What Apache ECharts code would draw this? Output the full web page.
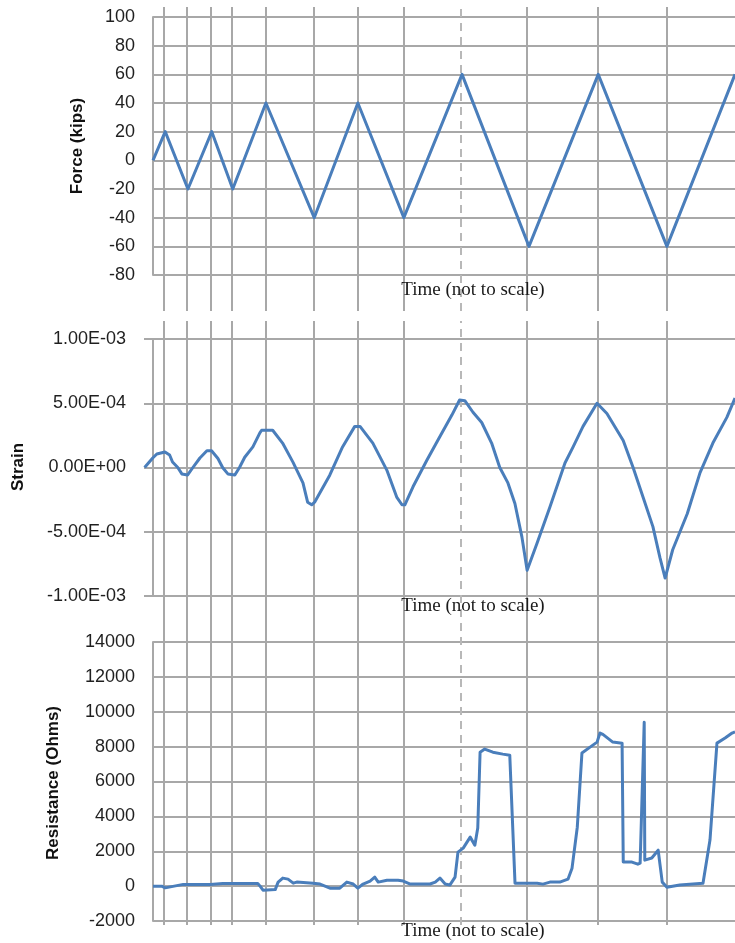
<!DOCTYPE html>
<html>
<head>
<meta charset="utf-8">
<script src="https://cdn.jsdelivr.net/npm/echarts@6/dist/echarts.min.js"></script>
<style>
  html, body { margin: 0; padding: 0; background: #fff; }
  #chart { width: 735px; height: 943px; }
</style>
</head>
<body>
<div id="chart"></div>
<script>
// Load-cycle peak times (arbitrary time units, not to scale); a grid line marks each one
const cycleTimes = [1.9, 5.8, 10.0, 13.6, 19.4, 27.7, 35.2, 43.1, 52.9, 64.3, 76.5, 88.3];
const dashedCycleTime = 52.9;

// Force (kips): triangular cycles between the peaks
const forceTimes = [0, 2.1, 6.0, 10.1, 13.7, 19.4, 27.7, 35.2, 43.1, 53.1, 64.6, 76.5, 88.3, 100];
const forceValues = [0, 20, -20, 20, -20, 40, -40, 40, -40, 60, -60, 60, -60, 60];

// Strain response
const strainTimes = [-1.4, 0, 0.7, 2.1, 2.9, 3.4, 4.3, 5.0, 6.0, 6.9, 8.1, 9.3, 10.1, 11.2, 12.0, 12.9,
  14.1, 14.9, 15.8, 17.2, 18.4, 18.7, 20.6, 22.3, 24.1, 25.8, 26.6, 27.3, 27.8, 30.4, 32.6, 34.7,
  35.6, 37.8, 40.2, 41.9, 42.8, 43.3, 44.7, 47.1, 49.3, 51.4, 52.7, 53.6, 55.0, 56.5, 58.2, 59.6,
  61.0, 62.2, 63.4, 64.3, 66.0, 68.2, 70.8, 72.2, 73.9, 76.3, 78.0, 80.8, 82.5, 84.2, 85.9, 87.1,
  88.0, 89.3, 91.8, 94.0, 96.2, 98.6, 100];
const strainValues = [0, 7.4e-5, 1.05e-4, 1.2e-4, 9.7e-5, 4.3e-5, 0, -5e-5, -5.8e-5, 0, 7.4e-5, 1.3e-4,
  1.3e-4, 7e-5, 0, -5e-5, -5.8e-5, 0, 8e-5, 1.6e-4, 2.7e-4, 2.9e-4, 2.9e-4, 1.9e-4, 4e-5, -1.2e-4,
  -2.7e-4, -2.9e-4, -2.7e-4, -6e-5, 1.6e-4, 3.2e-4, 3.2e-4, 1.9e-4, -2e-5, -2.3e-4, -2.9e-4, -2.9e-4,
  -1.5e-4, 5.8e-5, 2.4e-4, 4.1e-4, 5.25e-4, 5.2e-4, 4.3e-4, 3.5e-4, 1.9e-4, 0, -1.2e-4, -2.8e-4,
  -5.4e-4, -8e-4, -5.9e-4, -3.1e-4, 3.5e-5, 1.6e-4, 3.2e-4, 5e-4, 4.2e-4, 2.1e-4, 0, -2.3e-4, -4.6e-4,
  -7e-4, -8.6e-4, -6.4e-4, -3.6e-4, -4e-5, 1.9e-4, 3.9e-4, 5.4e-4];

// Resistance (Ohms)
const resistanceTimes = [0, 1.5, 2.1, 2.4, 5.2, 9.8, 12.0, 18.0, 18.4, 18.9, 21.0, 21.5, 22.3, 23.2,
  24.1, 24.7, 27.5, 28.7, 30.4, 32.1, 33.3, 34.4, 35.2, 36.1, 37.3, 38.1, 38.7, 40.2, 42.1, 43.0,
  44.2, 47.6, 48.5, 49.3, 50.2, 51.0, 51.9, 52.4, 53.3, 54.5, 55.3, 55.8, 56.2, 57.0, 58.4, 60.1,
  61.3, 62.2, 64.3, 66.0, 67.0, 68.2, 69.9, 71.3, 72.0, 72.9, 73.7, 75.1, 76.3, 76.8, 77.3, 79.0,
  80.6, 80.8, 82.3, 83.3, 83.7, 84.4, 84.5, 85.7, 86.8, 87.5, 88.3, 90.5, 94.5, 95.7, 96.9, 98.3,
  99.5, 100];
const resistanceValues = [0, 0, -100, 0, 100, 100, 150, 150, 0, -230, -200, 230, 460, 400, 170, 230,
  170, 120, -115, -115, 230, 120, -115, 120, 290, 520, 230, 340, 340, 290, 120, 120, 230, 460, 120,
  60, 520, 1950, 2180, 2810, 2350, 3330, 7680, 7860, 7680, 7570, 7510, 170, 170, 170, 115, 230, 230,
  400, 1030, 3380, 7630, 7970, 8260, 8780, 8700, 8260, 8200, 1380, 1380, 1260, 1320, 9400, 1490,
  1610, 2060, 230, -60, 60, 170, 2640, 8200, 8490, 8780, 8850];

// Y-axis tick labels of the strain panel
const strainTickLabels = {
  '-0.001': '-1.00E-03', '-0.0005': '-5.00E-04', '0': '0.00E+00', '0.0005': '5.00E-04', '0.001': '1.00E-03'
};

const zip = (xs, ys) => xs.map((x, i) => [x, ys[i]]);

const GRID_COLOR = '#a8a8a8';
const LINE_COLOR = '#4a7ebb';
const LABEL_FONT = { fontFamily: 'Liberation Sans', fontSize: 18, color: '#1f1f1f' };

function sciLabel(v) {
  const key = String(Math.round(v * 1e4) / 1e4);
  if (strainTickLabels[key]) return strainTickLabels[key];
  const [m, e] = v.toExponential(2).split('e');
  const n = Math.abs(parseInt(e, 10));
  return m + 'E' + (e[0] === '-' ? '-' : '+') + (n < 10 ? '0' + n : n);
}

function valueY(gridIndex, min, max, interval, formatter) {
  return {
    type: 'value', gridIndex, min, max, interval,
    axisLine: { show: true, lineStyle: { color: GRID_COLOR, width: 2 } },
    axisTick: { show: false },
    splitLine: { show: true, lineStyle: { color: GRID_COLOR, width: 2 } },
    axisLabel: Object.assign({ margin: 18, formatter }, LABEL_FONT)
  };
}

function hiddenX(gridIndex, min, max) {
  return {
    type: 'value', gridIndex, min, max, show: false,
    splitLine: { show: false }
  };
}

// Vertical cycle lines that run through the panels
const cycleMarks = cycleTimes.map(t => ({
  xAxis: t,
  lineStyle: t === dashedCycleTime
    ? { color: '#b8b8b8', width: 2, type: [8, 6] }
    : { color: GRID_COLOR, width: 2, type: 'solid' }
}));

function cycleLineSeries(axisIndex) {
  return {
    type: 'line', xAxisIndex: axisIndex, yAxisIndex: axisIndex, data: [], z: 1,
    silent: true,
    markLine: {
      silent: true, symbol: ['none', 'none'], label: { show: false },
      animation: false, data: cycleMarks
    }
  };
}

function dataSeries(axisIndex, data) {
  return {
    type: 'line', xAxisIndex: axisIndex, yAxisIndex: axisIndex, data, z: 5,
    showSymbol: false, symbol: 'none',
    lineStyle: { color: LINE_COLOR, width: 3, join: 'round' }
  };
}

const chart = echarts.init(document.getElementById('chart'), null, { renderer: 'canvas' });

const serifText = { fontFamily: 'Liberation Serif', fontSize: 19, fill: '#1a1a1a' };
const nameText = { fontFamily: 'Liberation Sans', fontSize: 17, fontWeight: 'bold', fill: '#111' };

chart.setOption({
  animation: false,
  backgroundColor: '#fff',
  grid: [
    { left: 153, top: 17, width: 582, height: 258, outerBoundsMode: 'none' },
    { left: 144, top: 339, width: 591, height: 257, outerBoundsMode: 'none' },
    { left: 153, top: 642, width: 582, height: 279, outerBoundsMode: 'none' },
    { left: 153, top: 7, width: 582, height: 304, outerBoundsMode: 'none' },
    { left: 153, top: 321, width: 582, height: 604, outerBoundsMode: 'none' }
  ],
  xAxis: [
    hiddenX(0, 0, 100),
    hiddenX(1, -1.5, 100),
    hiddenX(2, 0, 100),
    hiddenX(3, 0, 100),
    hiddenX(4, 0, 100)
  ],
  yAxis: [
    valueY(0, -80, 100, 20, v => String(v)),
    valueY(1, -0.001, 0.001, 0.0005, sciLabel),
    valueY(2, -2000, 14000, 2000, v => String(v)),
    { type: 'value', gridIndex: 3, min: 0, max: 1, show: false, splitLine: { show: false } },
    { type: 'value', gridIndex: 4, min: 0, max: 1, show: false, splitLine: { show: false } }
  ],
  series: [
    cycleLineSeries(3),
    cycleLineSeries(4),
    dataSeries(0, zip(forceTimes, forceValues)),
    dataSeries(1, zip(strainTimes, strainValues)),
    dataSeries(2, zip(resistanceTimes, resistanceValues))
  ],
  graphic: [
    { type: 'text', x: 473, y: 290, z: 10, style: Object.assign({ text: 'Time (not to scale)', align: 'center', verticalAlign: 'middle' }, serifText) },
    { type: 'text', x: 473, y: 606, z: 10, style: Object.assign({ text: 'Time (not to scale)', align: 'center', verticalAlign: 'middle' }, serifText) },
    { type: 'text', x: 473, y: 931, z: 10, style: Object.assign({ text: 'Time (not to scale)', align: 'center', verticalAlign: 'middle' }, serifText) },
    { type: 'text', x: 77, y: 146, rotation: Math.PI / 2, z: 10, style: Object.assign({ text: 'Force (kips)', align: 'center', verticalAlign: 'middle' }, nameText) },
    { type: 'text', x: 18, y: 467, rotation: Math.PI / 2, z: 10, style: Object.assign({ text: 'Strain', align: 'center', verticalAlign: 'middle' }, nameText) },
    { type: 'text', x: 53, y: 783, rotation: Math.PI / 2, z: 10, style: Object.assign({ text: 'Resistance (Ohms)', align: 'center', verticalAlign: 'middle' }, nameText) }
  ]
});
</script>
</body>
</html>
